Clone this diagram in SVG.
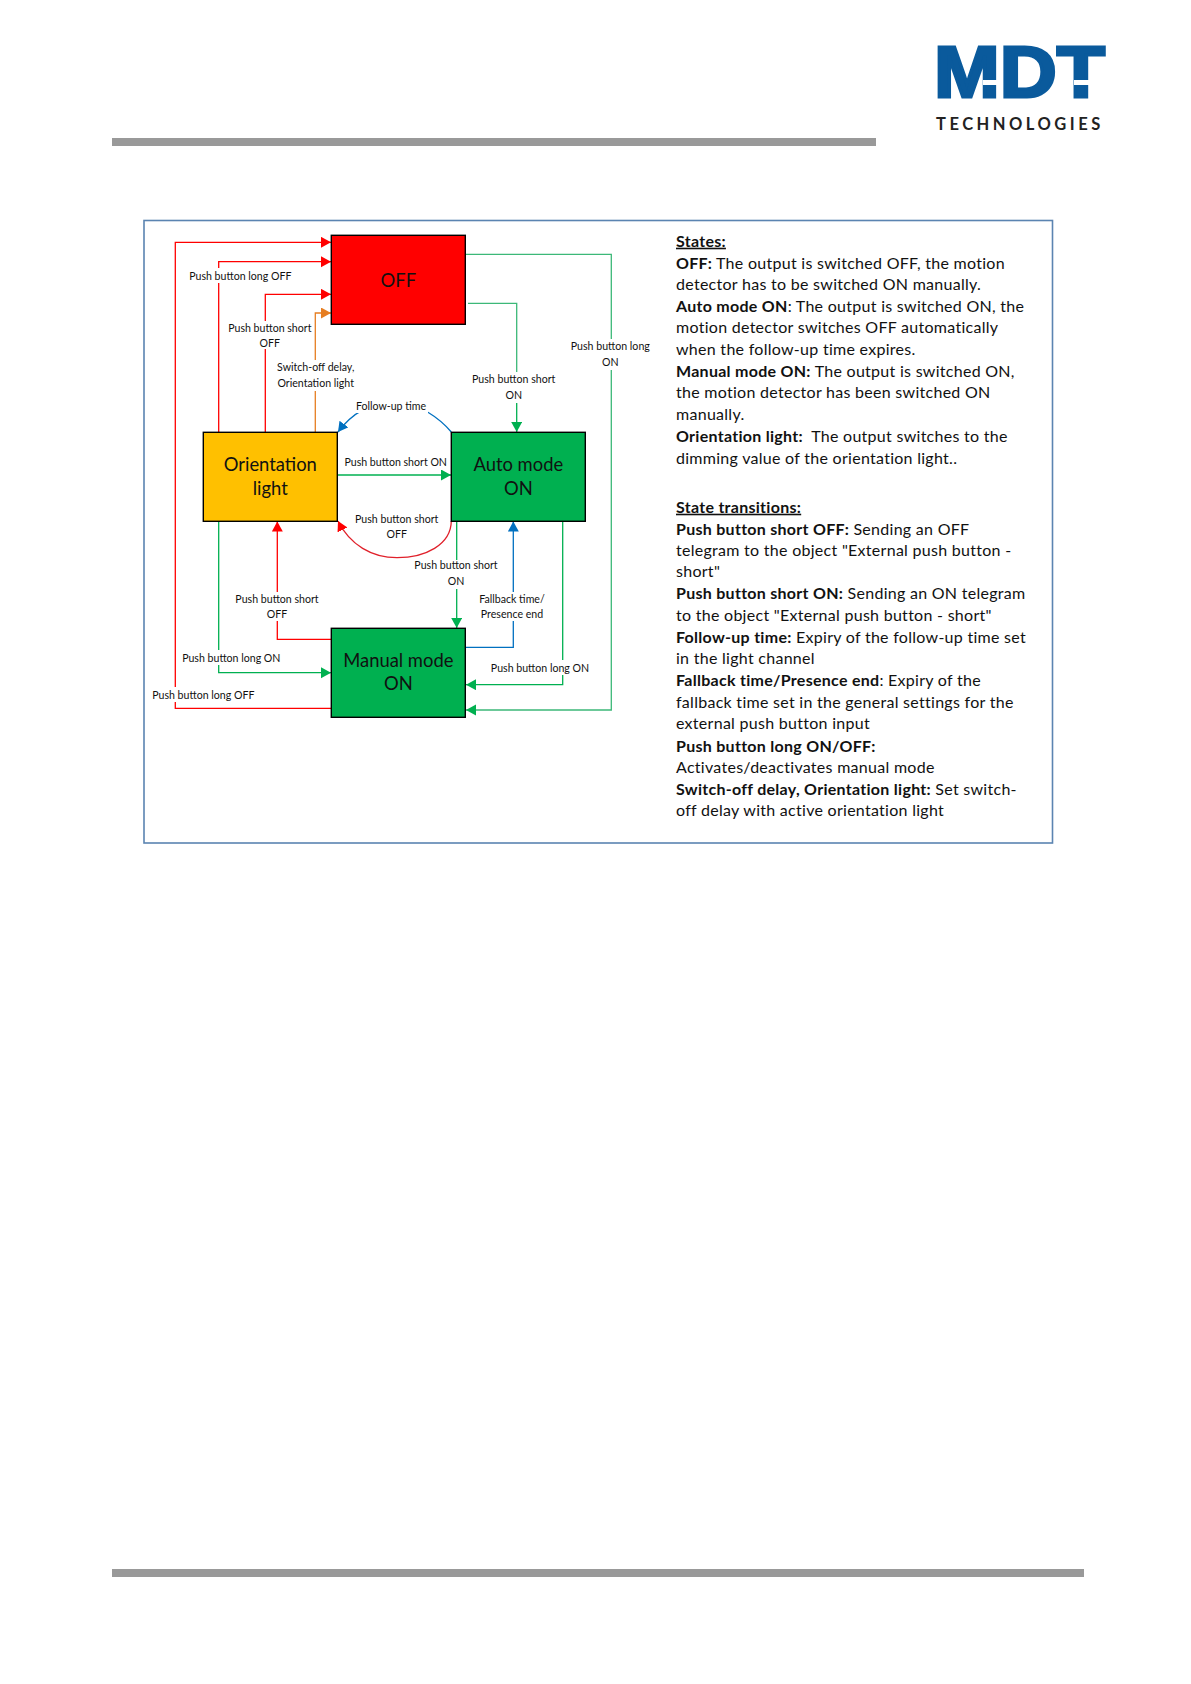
<svg xmlns="http://www.w3.org/2000/svg" width="1191" height="1684" viewBox="0 0 1191 1684">
<style>
text{font-family:"Lato","Open Sans","Liberation Sans",sans-serif;fill:#111}
.n{font-size:18.4px;text-anchor:middle}
.l{font-size:10.6px;text-anchor:middle}
.b{font-size:16px;letter-spacing:.28px}
.h{font-weight:700;text-decoration:underline}
.s{font-weight:700}
.box{stroke:#000;stroke-width:1.4}
.c{fill:none;stroke-width:1.3}
.bg{fill:#fff}
</style>
<defs>
<marker id="ar" markerUnits="userSpaceOnUse" markerWidth="12" markerHeight="14" refX="10" refY="5.5" orient="auto"><path d="M0 0L10 5.5L0 11Z" fill="#f00"/></marker>
<marker id="ag" markerUnits="userSpaceOnUse" markerWidth="12" markerHeight="14" refX="10" refY="5.5" orient="auto"><path d="M0 0L10 5.5L0 11Z" fill="#00B050"/></marker>
<marker id="ab" markerUnits="userSpaceOnUse" markerWidth="12" markerHeight="14" refX="10" refY="5.5" orient="auto"><path d="M0 0L10 5.5L0 11Z" fill="#0070C0"/></marker>
<marker id="ao" markerUnits="userSpaceOnUse" markerWidth="12" markerHeight="14" refX="10" refY="5.5" orient="auto"><path d="M0 0L10 5.5L0 11Z" fill="#E67E22"/></marker>
</defs>
<rect width="1191" height="1684" fill="#fff"/>
<rect x="112" y="138" width="764" height="8" fill="#999"/>
<rect x="112" y="1569" width="972" height="8" fill="#999"/>
<g id="logo">
<text x="934" y="97" style="font-size:72px;fill:#0A5A9C;stroke:#0A5A9C;stroke-width:3px;font-family:'Liberation Sans',sans-serif;font-weight:700" textLength="171" lengthAdjust="spacingAndGlyphs">MDT</text>
<rect x="983" y="80" width="16" height="5" fill="#fff"/>
<rect x="1074" y="80" width="16" height="5" fill="#fff"/>
<text x="936" y="129.5" style="font-size:16.5px;font-weight:700;fill:#222;letter-spacing:3.5px">TECHNOLOGIES</text>
</g>
<rect id="panel" x="144" y="220.5" width="908.5" height="622.5" fill="#fff" stroke="#5B84B1" stroke-width="1.6"/>
<g id="connectors">
<path class="c" stroke="#f00" marker-end="url(#ar)" d="M331 708.3H175.3V242.3H331"/>
<path class="c" stroke="#f00" marker-end="url(#ar)" d="M218.7 432V261.7H331"/>
<path class="c" stroke="#f00" marker-end="url(#ar)" d="M265.3 432V294.3H331"/>
<path class="c" stroke="#E67E22" marker-end="url(#ao)" d="M315.3 432V313H331"/>
<path class="c" stroke="#3CB878" marker-end="url(#ag)" d="M465 254.3H611.3V710H466"/>
<path class="c" stroke="#3CB878" d="M468 303.3H516.7V400"/>
<path class="c" stroke="#00B050" marker-end="url(#ag)" d="M516.7 398V432"/>
<path class="c" stroke="#0070C0" marker-end="url(#ab)" d="M451.3 432C441 420 420 402 392 402C372 402 352 413 338 432"/>
<path class="c" stroke="#00B050" marker-end="url(#ag)" d="M337 475H451"/>
<path class="c" stroke="#E0202A" marker-end="url(#ar)" d="M451.3 521C451 545 425 557.7 397 557.7C372 557.7 350 545 338 521"/>
<path class="c" stroke="#00B050" marker-end="url(#ag)" d="M456.7 521V628"/>
<path class="c" stroke="#0070C0" marker-end="url(#ab)" d="M465 647.3H513.3V521.5"/>
<path class="c" stroke="#00B050" marker-end="url(#ag)" d="M562.7 521V684.7H466"/>
<path class="c" stroke="#f00" marker-end="url(#ar)" d="M331 639.3H277.3V521.5"/>
<path class="c" stroke="#00B050" marker-end="url(#ag)" d="M218.7 521V672.7H331"/>
</g>
<g id="node-off"><rect class="box" x="331.3" y="235.3" width="134" height="89" fill="#f00"/><text class="n" x="398.3" y="286.7">OFF</text></g>
<g id="node-orientation"><rect class="box" x="203.3" y="432.3" width="134" height="89" fill="#FFC000"/><text class="n" x="270.3" y="470.8">Orientation</text><text class="n" x="270.3" y="494.5">light</text></g>
<g id="node-auto"><rect class="box" x="451.3" y="432.3" width="134" height="89" fill="#00B050"/><text class="n" x="518.3" y="470.8">Auto mode</text><text class="n" x="518.3" y="494.5">ON</text></g>
<g id="node-manual"><rect class="box" x="331.3" y="628.3" width="134" height="89" fill="#00B050"/><text class="n" x="398.3" y="666.5">Manual mode</text><text class="n" x="398.3" y="690">ON</text></g>
<g id="labels">
<rect class="bg" x="190" y="268" width="100" height="15"/><text class="l" x="240.3" y="279.6">Push button long OFF</text>
<rect class="bg" x="227" y="321" width="85" height="28"/><text class="l" x="269.8" y="331.6">Push button short</text><text class="l" x="269.8" y="346.6">OFF</text>
<rect class="bg" x="276" y="360" width="80" height="31"/><text class="l" x="315.7" y="371">Switch-off delay,</text><text class="l" x="315.7" y="386.7">Orientation light</text>
<rect class="bg" x="354" y="398" width="74" height="15"/><text class="l" x="391" y="409.7">Follow-up time</text>
<text class="l" x="395.7" y="465.7">Push button short ON</text>
<rect class="bg" x="470" y="372" width="88" height="31"/><text class="l" x="513.7" y="383">Push button short</text><text class="l" x="513.7" y="399">ON</text>
<rect class="bg" x="569" y="339" width="84" height="31"/><text class="l" x="610.3" y="350">Push button long</text><text class="l" x="610.3" y="365.7">ON</text>
<text class="l" x="396.7" y="522.7">Push button short</text><text class="l" x="396.7" y="538.3">OFF</text>
<rect class="bg" x="413" y="560" width="86" height="29"/><text class="l" x="456" y="569.3">Push button short</text><text class="l" x="456" y="585">ON</text>
<rect class="bg" x="234" y="592" width="86" height="29"/><text class="l" x="277" y="602.7">Push button short</text><text class="l" x="277" y="617.7">OFF</text>
<rect class="bg" x="478" y="592" width="68" height="29"/><text class="l" x="512" y="602.7">Fallback time/</text><text class="l" x="512" y="617.7">Presence end</text>
<rect class="bg" x="182" y="650" width="100" height="15"/><text class="l" x="231.3" y="661.7">Push button long ON</text>
<rect class="bg" x="490" y="660" width="100" height="15"/><text class="l" x="540" y="671.7">Push button long ON</text>
<rect class="bg" x="152" y="687" width="102" height="15"/><text class="l" x="203.3" y="698.7">Push button long OFF</text>
</g>
<g id="legend">
<text class="b h" x="676" y="246.7">States:</text>
<text class="b" x="676" y="268.6"><tspan class="s">OFF:</tspan> The output is switched OFF, the motion</text>
<text class="b" x="676" y="290">detector has to be switched ON manually.</text>
<text class="b" x="676" y="311.7"><tspan class="s">Auto mode ON</tspan>: The output is switched ON, the</text>
<text class="b" x="676" y="333">motion detector switches OFF automatically</text>
<text class="b" x="676" y="355">when the follow-up time expires.</text>
<text class="b" x="676" y="377"><tspan class="s">Manual mode ON:</tspan> The output is switched ON,</text>
<text class="b" x="676" y="398.3">the motion detector has been switched ON</text>
<text class="b" x="676" y="420.4">manually.</text>
<text class="b" x="676" y="442.3" xml:space="preserve"><tspan class="s">Orientation light:</tspan>  The output switches to the</text>
<text class="b" x="676" y="464">dimming value of the orientation light..</text>
<text class="b h" x="676" y="512.7">State transitions:</text>
<text class="b" x="676" y="534.6"><tspan class="s">Push button short OFF:</tspan> Sending an OFF</text>
<text class="b" x="676" y="555.7">telegram to the object "External push button -</text>
<text class="b" x="676" y="577.3">short"</text>
<text class="b" x="676" y="599"><tspan class="s">Push button short ON:</tspan> Sending an ON telegram</text>
<text class="b" x="676" y="620.7">to the object "External push button - short"</text>
<text class="b" x="676" y="642.7"><tspan class="s">Follow-up time:</tspan> Expiry of the follow-up time set</text>
<text class="b" x="676" y="664.4">in the light channel</text>
<text class="b" x="676" y="686"><tspan class="s">Fallback time/Presence end</tspan>: Expiry of the</text>
<text class="b" x="676" y="707.7">fallback time set in the general settings for the</text>
<text class="b" x="676" y="729.3">external push button input</text>
<text class="b" x="676" y="751.6"><tspan class="s">Push button long ON/OFF:</tspan></text>
<text class="b" x="676" y="772.7">Activates/deactivates manual mode</text>
<text class="b" x="676" y="794.7"><tspan class="s">Switch-off delay, Orientation light:</tspan> Set switch-</text>
<text class="b" x="676" y="816.3">off delay with active orientation light</text>
</g>
</svg>
